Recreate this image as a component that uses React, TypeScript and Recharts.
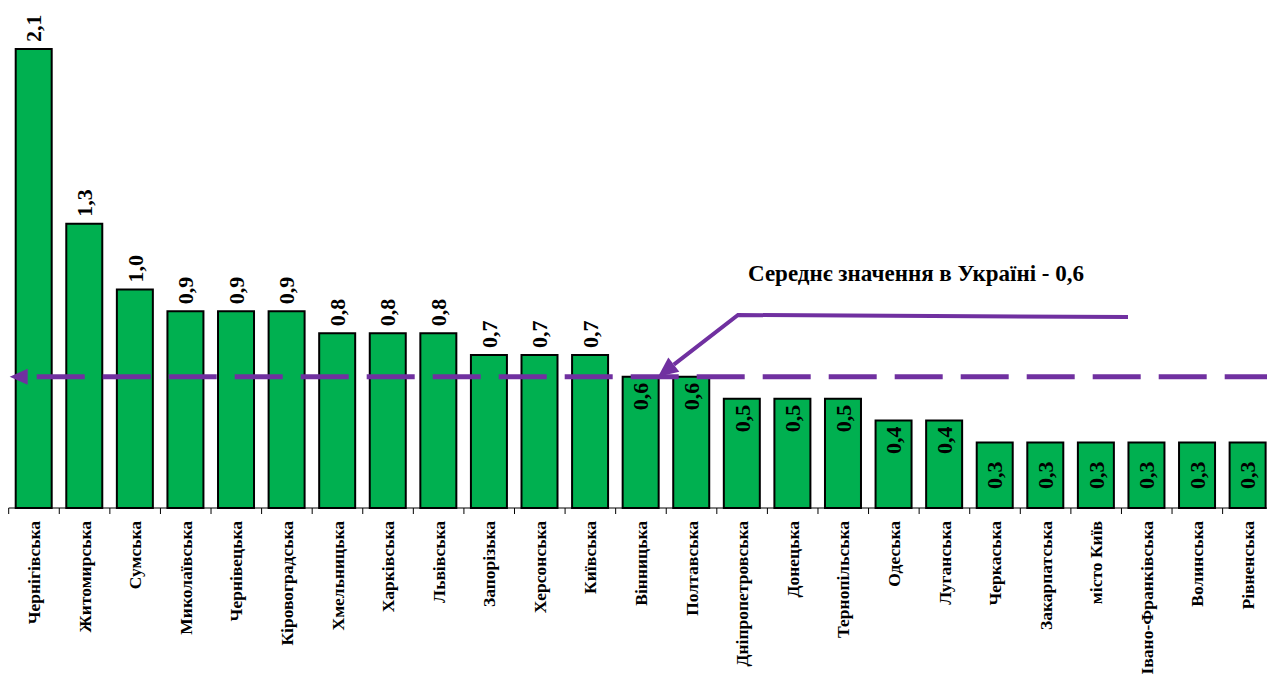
import { BarChart, Bar, XAxis, YAxis, LabelList, ReferenceLine } from "recharts";

const regions = [
  "Чернігівська", "Житомирська", "Сумська", "Миколаївська", "Чернівецька",
  "Кіровоградська", "Хмельницька", "Харківська", "Львівська", "Запорізька",
  "Херсонська", "Київська", "Вінницька", "Полтавська", "Дніпропетровська",
  "Донецька", "Тернопільська", "Одеська", "Луганська", "Черкаська",
  "Закарпатська", "місто Київ", "Івано-Франківська", "Волинська", "Рівненська",
];
const values = [
  2.1, 1.3, 1.0, 0.9, 0.9, 0.9, 0.8, 0.8, 0.8, 0.7, 0.7, 0.7, 0.6, 0.6, 0.5,
  0.5, 0.5, 0.4, 0.4, 0.3, 0.3, 0.3, 0.3, 0.3, 0.3,
];
const average = 0.6;
const averageLabel = "Середнє значення в Україні - 0,6";

const data = regions.map((name, i) => ({ name, value: values[i] }));

const W = 1274;
const H = 682;
const M = { top: 49, right: 0.8, left: 8.7, bottom: 0 };
const AXIS_H = 174;
const BAND = (W - M.left - M.right) / regions.length;
const PURPLE = "#7030A0";
const FONT = "'Times New Roman', 'Liberation Serif', serif";
const txt = { fontFamily: FONT, fontWeight: 700 };

const fmt = (v: number) => v.toFixed(1).replace(".", ",");

function RegionTick(props: any) {
  const { x, y, payload, index } = props;
  const ty = y + 13;
  return (
    <g>
      <line x1={x - BAND / 2} y1={y} x2={x - BAND / 2} y2={y + 6} stroke="#000" />
      {index === regions.length - 1 && (
        <line x1={x + BAND / 2} y1={y} x2={x + BAND / 2} y2={y + 6} stroke="#000" />
      )}
      <text
        x={x}
        y={ty}
        dy="0.35em"
        transform={`rotate(-90 ${x} ${ty})`}
        textAnchor="end"
        style={{ ...txt, fontSize: 17.5 }}
        fill="#000"
      >
        {payload.value}
      </text>
    </g>
  );
}

function ValueLabel(props: any) {
  const { x, y, width, height, value } = props;
  const cx = x + width / 2;
  let ty: number;
  let anchor: "start" | "end" | "middle";
  if (value > average) {
    ty = y - 7;
    anchor = "start";
  } else if (height < 80) {
    ty = y + height / 2;
    anchor = "middle";
  } else {
    ty = y + 6;
    anchor = "end";
  }
  return (
    <text
      x={cx}
      y={ty}
      dy="0.35em"
      transform={`rotate(-90 ${cx} ${ty})`}
      textAnchor={anchor}
      style={{ ...txt, fontSize: 22 }}
      fill="#000"
    >
      {fmt(value)}
    </text>
  );
}

function AverageLine(props: any) {
  const { x1, y1, x2 } = props;
  const y = y1;
  // callout: horizontal leader, then diagonal down to the average line
  const hx1 = 1128, hy1 = 317, hx0 = 738, hy0 = 315;
  const tipX = 658;
  const dx = tipX - hx0, dy = y - hy0;
  const len = Math.hypot(dx, dy);
  const ux = dx / len, uy = dy / len;
  const bx = tipX - 20 * ux, by = y - 20 * uy;
  const px = -uy, py = ux;
  return (
    <g>
      <polygon
        points={`${x1 + 1},${y} ${x1 + 19},${y - 8} ${x1 + 19},${y + 8}`}
        fill={PURPLE}
      />
      <line
        x1={x1 + 28}
        y1={y}
        x2={x2}
        y2={y}
        stroke={PURPLE}
        strokeWidth={5}
        strokeDasharray="48 18"
      />
      <polyline
        points={`${hx1},${hy1} ${hx0},${hy0} ${bx},${by}`}
        fill="none"
        stroke={PURPLE}
        strokeWidth={4}
      />
      <polygon
        points={`${tipX},${y} ${bx + 9 * px},${by + 9 * py} ${bx - 9 * px},${by - 9 * py}`}
        fill={PURPLE}
      />
      <text x={748} y={281} style={{ ...txt, fontSize: 23 }} fill="#000">
        {averageLabel}
      </text>
    </g>
  );
}

export default function App() {
  return (
    <div
      style={{
        position: "absolute",
        left: 0,
        top: 0,
        width: 1267,
        height: 682,
        overflow: "hidden",
        background: "#fff",
      }}
    >
      <BarChart width={W} height={H} data={data} margin={M} barSize={36}>
        <XAxis
          dataKey="name"
          interval={0}
          height={AXIS_H}
          tickLine={false}
          tickSize={0}
          tickMargin={0}
          axisLine={{ stroke: "#000", strokeWidth: 1 }}
          tick={<RegionTick />}
        />
        <YAxis hide domain={[0, 2.1]} />
        <Bar
          dataKey="value"
          fill="#00B050"
          stroke="#000"
          strokeWidth={2}
          isAnimationActive={false}
        >
          <LabelList dataKey="value" content={<ValueLabel />} />
        </Bar>
        <ReferenceLine y={average} shape={<AverageLine />} />
      </BarChart>
    </div>
  );
}
